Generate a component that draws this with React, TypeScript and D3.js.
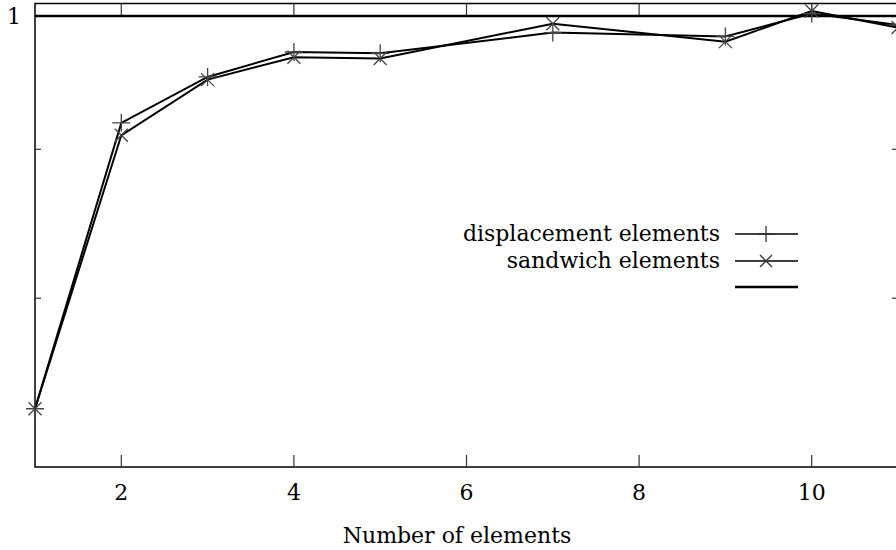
import React from 'react';
import * as d3 from 'd3';

const elements = [1, 2, 3, 4, 5, 7, 9, 10, 11];
const displacement = [0.733, 0.919, 0.953, 0.972, 0.971, 0.987, 0.984, 1.002, 0.993];
const sandwich = [0.733, 0.910, 0.951, 0.968, 0.967, 0.994, 0.980, 1.004, 0.991];
const xTicks = [2, 4, 6, 8, 10];
const yTicks = [1, 0.9, 0.8];
const legendLabels = ['displacement elements', 'sandwich elements', ''];

const W = 896;
const H = 550;
const FONT = "'DejaVu Serif', 'Liberation Serif', serif";
const FS = 22;

const App = () => {
  const x = d3.scaleLinear().domain([1, 11]).range([35, 898]);
  const y = d3.scaleLog().domain([0.7, 1.01]).range([467, 3.5]);
  const [x0, x1] = x.range();
  const [yb, yt] = y.range();

  const line = d3
    .line<number>()
    .x((_, i) => x(elements[i]))
    .y((d) => y(d));

  const plus = (cx: number, cy: number, s: number) =>
    `M${cx - s},${cy}H${cx + s}M${cx},${cy - s}V${cy + s}`;
  const cross = (cx: number, cy: number, s: number) =>
    `M${cx - s},${cy - s}L${cx + s},${cy + s}M${cx - s},${cy + s}L${cx + s},${cy - s}`;

  const legendX = 720;
  const legendY = [234, 261, 287];

  return (
    <svg
      width={W}
      height={H}
      style={{ position: 'absolute', left: 0, top: 0, background: '#fff', fontFamily: FONT }}
    >
      {/* frame */}
      <rect x={x0} y={yt} width={x1 - x0} height={yb - yt} fill="none" stroke="#000" strokeWidth={1.5} />

      {/* x ticks, bottom and top */}
      {xTicks.map((t) => (
        <g key={t}>
          <line x1={x(t)} x2={x(t)} y1={yb} y2={yb - 12} stroke="#333" strokeWidth={1.2} />
          <line x1={x(t)} x2={x(t)} y1={yt} y2={yt + 12} stroke="#333" strokeWidth={1.2} />
          <text x={x(t)} y={500} textAnchor="middle" fontSize={FS} style={{ fontFamily: FONT }}>
            {t}
          </text>
        </g>
      ))}

      {/* y ticks, left and right */}
      {yTicks.map((t) => (
        <g key={t}>
          <line x1={x0} x2={x0 + 6} y1={y(t)} y2={y(t)} stroke="#333" strokeWidth={1.2} />
          <line x1={x1} x2={x1 - 6} y1={y(t)} y2={y(t)} stroke="#333" strokeWidth={1.2} />
        </g>
      ))}
      <text x={21} y={y(1) + 8} textAnchor="end" fontSize={FS} style={{ fontFamily: FONT }}>
        1
      </text>

      <text x={457} y={543} textAnchor="middle" fontSize={FS} style={{ fontFamily: FONT }}>
        Number of elements
      </text>

      {/* reference line at 1 */}
      <line x1={x0} x2={x1} y1={y(1)} y2={y(1)} stroke="#000" strokeWidth={2.5} />

      {/* series */}
      <path d={line(displacement) ?? ''} fill="none" stroke="#000" strokeWidth={2} />
      <path d={line(sandwich) ?? ''} fill="none" stroke="#000" strokeWidth={2} />
      {displacement.map((v, i) => (
        <path key={'p' + i} d={plus(x(elements[i]), y(v), 9)} stroke="#444" strokeWidth={1.3} />
      ))}
      {sandwich.map((v, i) => (
        <path key={'c' + i} d={cross(x(elements[i]), y(v), 6.5)} stroke="#444" strokeWidth={1.3} />
      ))}

      {/* legend */}
      {legendLabels.map((lab, i) => (
        <g key={i}>
          <text x={legendX} y={legendY[i] + 7} textAnchor="end" fontSize={FS} style={{ fontFamily: FONT }}>
            {lab}
          </text>
          <line
            x1={735}
            x2={798}
            y1={legendY[i]}
            y2={legendY[i]}
            stroke="#000"
            strokeWidth={i === 2 ? 2.5 : 1.5}
          />
        </g>
      ))}
      <path d={plus(766, legendY[0], 8)} stroke="#333" strokeWidth={1.3} />
      <path d={cross(766, legendY[1], 6)} stroke="#333" strokeWidth={1.3} />
    </svg>
  );
};

export default App;
